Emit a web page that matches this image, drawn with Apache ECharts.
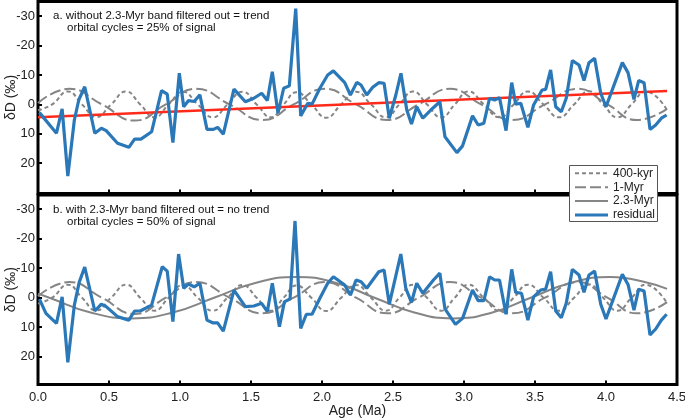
<!DOCTYPE html>
<html>
<head>
<meta charset="utf-8">
<script src="https://cdn.jsdelivr.net/npm/echarts@6/dist/echarts.min.js"></script>
<style>
html,body{margin:0;padding:0;background:#fff;}
#chart{width:685px;height:419px;}
</style>
</head>
<body>
<div id="chart"></div>
<script>
// ---- data ----
const xTicks = [0, 0.5, 1.0, 1.5, 2.0, 2.5, 3.0, 3.5, 4.0, 4.5];
const yTicks = [-30, -20, -10, 0, 10, 20];
const legendNames = ['400-kyr', '1-Myr', '2.3-Myr', 'residual'];

// panel a residual (without 2.3-Myr band filtered out)
const ageResA = [0.01,0.13,0.17,0.21,0.256,0.287,0.329,0.40,0.446,0.48,0.56,0.64,0.68,0.725,0.80,0.87,0.91,0.95,0.995,1.026,1.06,1.10,1.14,1.19,1.235,1.265,1.305,1.38,1.46,1.52,1.575,1.615,1.65,1.69,1.73,1.77,1.815,1.85,1.90,1.93,1.985,2.04,2.08,2.16,2.20,2.245,2.275,2.315,2.357,2.40,2.437,2.474,2.52,2.556,2.597,2.63,2.667,2.71,2.78,2.83,2.866,2.95,2.99,3.06,3.10,3.14,3.18,3.216,3.25,3.296,3.336,3.364,3.40,3.45,3.49,3.55,3.575,3.61,3.646,3.685,3.72,3.763,3.81,3.845,3.88,3.92,3.963,4.0,4.115,4.155,4.197,4.23,4.268,4.31,4.35,4.39,4.427];
const resA = [2.8,9.8,1.5,24.4,5.3,-1.5,-6.0,9.8,8.1,8.9,13.2,14.6,11.8,11.8,9.3,-4.7,-3.5,13.0,-10.6,0.8,-1.3,-1.0,-3.3,8.5,8.5,7.8,10.1,-5.2,-0.9,-2.1,-3.8,-1.3,-11.1,3.0,-5.5,-6.3,-32.6,3.9,-0.4,-0.1,-5.5,-10.0,-11.4,-7.4,-3.2,-7.5,-6.6,-3.2,-5.8,-7.4,-7.2,4.7,-3.2,-10.6,1.9,6.7,0.8,4.7,1.3,-0.9,11.0,16.4,14.1,3.9,7.0,6.4,-2.1,-1.5,-2.3,8.9,-7.4,-0.1,-0.4,7.8,0.2,-4.9,-5.1,-11.7,0.8,2.5,-2.1,-14.9,-13.4,-8.1,-14.2,-15.7,-3.8,0.8,-14.2,-10.8,-1.7,-8.1,-7.4,8.5,7.0,4.7,3.6];

// panel b residual (with 2.3-Myr band filtered out)
const ageResB = [0.01,0.056,0.13,0.17,0.21,0.256,0.29,0.329,0.40,0.446,0.48,0.56,0.64,0.68,0.72,0.80,0.875,0.91,0.95,0.99,1.026,1.06,1.10,1.14,1.19,1.23,1.265,1.305,1.38,1.46,1.52,1.575,1.615,1.65,1.70,1.735,1.775,1.81,1.85,1.89,1.93,1.985,2.04,2.08,2.16,2.20,2.24,2.275,2.315,2.40,2.437,2.474,2.555,2.59,2.63,2.667,2.71,2.785,2.83,2.866,2.94,2.99,3.06,3.10,3.14,3.18,3.216,3.25,3.296,3.336,3.364,3.405,3.45,3.49,3.54,3.575,3.61,3.646,3.685,3.72,3.763,3.81,3.845,3.88,3.92,3.963,4.0,4.115,4.155,4.197,4.23,4.268,4.31,4.35,4.39,4.427];
const resB = [0.5,5.3,8.7,-0.3,21.9,2.5,-5.2,-10.4,4.5,2.2,3.0,6.4,7.6,4.5,4.5,2.5,-10.5,-9.0,8.1,-14.8,-3.2,-4.6,-3.7,-4.9,7.6,8.5,8.5,11.3,-2.6,3.0,2.8,1.9,4.7,-4.9,9.8,1.4,0.4,-26.0,10.4,5.6,5.6,0.2,-4.9,-7.1,-4.3,-0.9,-6.0,-5.4,-3.2,-8.8,-9.4,2.2,-14.8,-3.2,1.6,-4.9,-1.5,-6.0,-8.3,3.8,9.0,7.0,-2.6,1.0,1.0,-7.1,-6.0,-6.0,5.6,-9.6,-1.8,-1.5,7.6,-0.3,-2.6,-2.9,-8.8,4.5,6.8,1.9,-9.6,-7.7,-1.8,-7.7,-9.0,2.2,7.2,-7.9,-4.5,4.2,-2.9,-2.3,12.6,10.6,7.6,5.6];

// 400-kyr cycle (peaks, zero crossings, troughs)
const age400 = [0.0,0.10,0.21,0.31,0.41,0.515,0.62,0.72,0.82,0.92,1.02,1.125,1.23,1.335,1.44,1.54,1.64,1.73,1.82,1.925,2.03,2.135,2.24,2.345,2.45,2.545,2.64,2.74,2.84,2.935,3.03,3.14,3.25,3.35,3.45,3.56,3.67,3.775,3.88,3.98,4.08,4.18,4.28,4.43];
const val400 = [2.0,0,-4.4,0,4.3,0,-4.4,0,4.4,0,-4.3,0,4.4,0,-4.3,0,4.4,0,-4.1,0,4.5,0,-4.3,0,4.4,0,-4.4,0,4.4,0,-4.4,0,4.4,0,-4.4,0,4.4,0,-4.5,0,4.4,0,-4.4,1.9];

// 1-Myr cycle
const age1M = [0.0,0.22,0.45,0.68,0.90,1.11,1.35,1.58,1.80,2.02,2.24,2.46,2.68,2.90,3.12,3.34,3.57,3.80,4.01,4.22,4.43];
const val1M = [-0.5,-5.3,0,5.5,0,-5.3,0,5.3,0,-5.3,0,5.3,0,-5.3,0,5.3,0,-5.3,0,5.3,1.5];

// 2.3-Myr cycle (panel b only)
const age23 = [0.0,0.08,0.37,0.66,0.95,1.24,1.53,1.82,2.10,2.37,2.65,2.92,3.20,3.47,3.75,4.03,4.30,4.43];
const val23 = [-1.4,0,5.0,7.0,5.0,0,-5.0,-7.0,-5.0,0,5.0,7.0,5.0,0,-5.0,-7.0,-5.0,-3.0];

// linear trend in panel a
const ageTrend = [0.0, 4.43];
const valTrend = [4.4, -4.6];

// ---- chart ----
const zip = (a, b) => a.map((v, i) => [v, b[i]]);
const FONT = 'Liberation Sans, Arial, Helvetica, sans-serif';
const GREY = '#858585';
const BLUE = '#2a78b8';
const styles = {
  '400-kyr': {color: GREY, width: 2, dash: [4, 3]},
  '1-Myr': {color: GREY, width: 2, dash: [11, 4]},
  '2.3-Myr': {color: GREY, width: 2, dash: null},
  'residual': {color: BLUE, width: 3.2, dash: null}
};

function xAxis(idx, showLabels) {
  return {
    type: 'value', gridIndex: idx, min: 0, max: 4.5, interval: 0.5,
    axisLine: {show: false, onZero: false},
    axisTick: {show: true, inside: true, length: 4, lineStyle: {color: '#000', width: 2}},
    splitLine: {show: false},
    axisLabel: {show: showLabels, color: '#222', fontSize: 13, fontFamily: FONT, margin: 6,
      formatter: v => v.toFixed(1)},
    name: showLabels ? 'Age (Ma)' : '',
    nameLocation: 'middle', nameGap: 20, nameMoveOverlap: false,
    nameTextStyle: {color: '#222', fontSize: 14, fontFamily: FONT}
  };
}
function yAxis(idx, min, max) {
  return {
    type: 'value', gridIndex: idx, inverse: true, min: min, max: max,
    axisLine: {show: false, onZero: false},
    axisTick: {show: true, inside: true, length: 4, lineStyle: {color: '#000', width: 2}, customValues: yTicks},
    splitLine: {show: false},
    axisLabel: {color: '#222', fontSize: 13, fontFamily: FONT, margin: 3, customValues: yTicks},
    name: 'δD (‰)', nameLocation: 'middle', nameGap: 20, nameRotate: 90, nameMoveOverlap: false,
    nameTextStyle: {color: '#222', fontSize: 14, fontFamily: FONT}
  };
}
function line(name, xi, data, smooth, z) {
  const s = styles[name] || {color: '#ff2a1a', width: 2.5, dash: null};
  return {
    name: name, type: 'line', xAxisIndex: xi, yAxisIndex: xi,
    data: data, showSymbol: false, symbol: 'none', smooth: smooth,
    lineStyle: {color: s.color, width: s.width, type: s.dash || 'solid'},
    z: z, silent: true, animation: false
  };
}

// legend drawn as a small boxed key
const LX = 569, LY = 165, LW = 88, ROW = 13.9;
const legendGraphics = [
  {type: 'rect', z: 20, shape: {x: LX + 0.5, y: LY + 0.5, width: LW, height: 56},
    style: {fill: '#fff', stroke: '#555', lineWidth: 1}}
];
legendNames.forEach((n, i) => {
  const s = styles[n];
  const cy = LY + 8.3 + i * ROW;
  legendGraphics.push({type: 'line', z: 21, shape: {x1: LX + 6, y1: cy, x2: LX + 39, y2: cy},
    style: {stroke: s.color, lineWidth: s.width, lineDash: s.dash}});
  legendGraphics.push({type: 'text', z: 21, x: LX + 44, y: cy,
    style: {text: n, font: '12px ' + FONT, fill: '#222', verticalAlign: 'middle'}});
});

const chart = echarts.init(document.getElementById('chart'), null, {renderer: 'canvas'});
chart.setOption({
  animation: false,
  backgroundColor: '#fff',
  grid: [
    {left: 38, top: 1.5, width: 639, height: 192, show: true, borderColor: '#000', borderWidth: 3,
      backgroundColor: 'transparent', containLabel: false, outerBoundsMode: 'none'},
    {left: 38, top: 195, width: 639, height: 189.5, show: true, borderColor: '#000', borderWidth: 3,
      backgroundColor: 'transparent', containLabel: false, outerBoundsMode: 'none'}
  ],
  xAxis: [xAxis(0, false), xAxis(1, true)],
  yAxis: [yAxis(0, -35, 30.3), yAxis(1, -34.8, 29.4)],
  graphic: [
    {type: 'text', x: 53, y: 16, z: 10, style: {text: 'a. without 2.3-Myr band filtered out = trend', font: '11.5px ' + FONT, fill: '#111', verticalAlign: 'middle'}},
    {type: 'text', x: 67, y: 28, z: 10, style: {text: 'orbital cycles = 25% of signal', font: '11.5px ' + FONT, fill: '#111', verticalAlign: 'middle'}},
    {type: 'text', x: 53, y: 210, z: 10, style: {text: 'b. with 2.3-Myr band filtered out = no trend', font: '11.5px ' + FONT, fill: '#111', verticalAlign: 'middle'}},
    {type: 'text', x: 67, y: 221.5, z: 10, style: {text: 'orbital cycles = 50% of signal', font: '11.5px ' + FONT, fill: '#111', verticalAlign: 'middle'}}
  ].concat(legendGraphics),
  series: [
    line('400-kyr', 0, zip(age400, val400), 0.5, 2),
    line('1-Myr', 0, zip(age1M, val1M), 0.5, 2),
    line('trend', 0, zip(ageTrend, valTrend), false, 3),
    line('residual', 0, zip(ageResA, resA), false, 4),
    line('400-kyr', 1, zip(age400, val400), 0.5, 2),
    line('1-Myr', 1, zip(age1M, val1M), 0.5, 2),
    line('2.3-Myr', 1, zip(age23, val23), 0.5, 2),
    line('residual', 1, zip(ageResB, resB), false, 4)
  ]
});
</script>
</body>
</html>
